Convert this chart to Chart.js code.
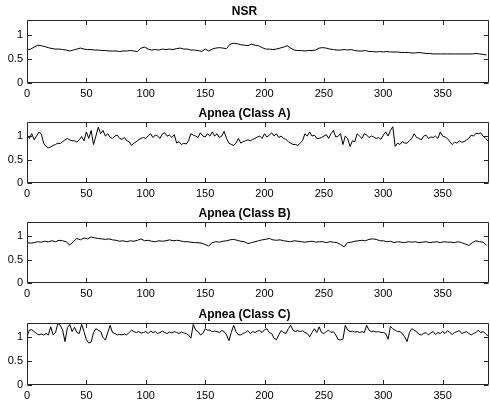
<!DOCTYPE html>
<html><head><meta charset="utf-8">
<script src="https://cdn.jsdelivr.net/npm/chart.js@4.4.1/dist/chart.umd.min.js"></script>
<style>
html,body{margin:0;padding:0;background:#fff;width:490px;height:406px;overflow:hidden;}
canvas{position:absolute;left:0;}
</style></head><body>
<canvas id="c0"></canvas><canvas id="c1"></canvas><canvas id="c2"></canvas><canvas id="c3"></canvas>
<script>
const titles = ["NSR", "Apnea (Class A)", "Apnea (Class B)", "Apnea (Class C)"];
const xTicks = [0, 50, 100, 150, 200, 250, 300, 350];
const yTicks = [0, 0.5, 1];
const xMin = 0, xMax = 389, yMin = 0, yMax = 1.3;

// NSR, sampled every 3 units (x = 0,3,...,387)
const nsrStep = 3;
const nsr = [0.68,0.70,0.74,0.78,0.77,0.75,0.73,0.71,0.70,0.70,0.69,0.68,0.66,0.68,0.70,0.72,0.70,0.69,0.69,0.68,
0.68,0.67,0.67,0.66,0.66,0.66,0.65,0.66,0.66,0.67,0.66,0.65,0.72,0.74,0.70,0.68,0.69,0.68,0.70,0.69,
0.70,0.69,0.71,0.72,0.70,0.70,0.68,0.68,0.67,0.65,0.70,0.66,0.70,0.72,0.73,0.72,0.71,0.80,0.82,0.81,
0.79,0.78,0.77,0.80,0.78,0.77,0.73,0.70,0.70,0.69,0.70,0.72,0.74,0.77,0.72,0.68,0.67,0.67,0.66,0.67,
0.67,0.68,0.72,0.73,0.72,0.70,0.69,0.68,0.68,0.69,0.68,0.69,0.67,0.66,0.66,0.67,0.65,0.65,0.64,0.65,
0.64,0.65,0.64,0.64,0.64,0.63,0.63,0.63,0.62,0.62,0.63,0.62,0.61,0.61,0.60,0.60,0.60,0.60,0.60,0.60,
0.60,0.60,0.60,0.60,0.60,0.60,0.61,0.60,0.59,0.58];

// Apnea Class A, sampled every 2 units (x = 0,2,...,388)
const classAStep = 2;
const classA = [1.02,0.95,1.05,0.92,1.00,1.08,1.05,0.85,0.78,0.75,0.77,0.80,0.82,0.85,0.84,0.88,0.92,0.95,0.92,0.90,
0.90,0.87,0.92,0.99,0.90,1.09,0.95,1.12,0.82,1.00,1.19,1.05,1.12,1.00,1.05,0.97,0.95,1.00,1.02,0.95,
0.93,0.97,0.90,0.88,0.80,0.85,0.88,0.92,0.95,0.97,0.95,1.00,1.05,0.97,1.02,1.00,0.95,1.05,1.07,1.00,
1.02,0.97,1.03,0.85,0.88,0.82,0.85,0.83,0.90,1.05,1.02,1.00,0.97,1.07,1.00,0.98,1.05,1.00,1.09,1.00,
1.05,0.97,1.00,1.10,0.95,0.85,0.82,0.80,0.85,0.95,0.85,0.88,0.90,0.92,0.90,0.93,0.95,0.98,1.00,0.95,
1.05,0.98,1.02,1.07,1.00,1.05,0.97,1.00,0.95,0.93,0.88,0.85,0.82,0.82,0.80,0.85,0.90,1.05,1.00,1.09,
1.00,1.02,0.95,0.95,0.97,1.00,1.03,0.95,1.05,1.12,0.98,1.00,1.05,0.82,1.00,0.95,0.78,0.90,0.88,1.05,
1.00,0.95,1.05,1.02,0.97,1.00,0.98,0.95,0.97,0.93,1.02,1.09,1.00,1.12,1.20,0.78,0.85,0.82,0.88,0.85,
0.85,0.90,0.95,1.05,0.97,0.95,0.92,1.00,1.02,0.95,0.98,0.97,1.00,0.95,1.09,1.00,0.98,0.95,0.88,0.82,
0.87,0.85,0.90,0.87,0.88,0.92,0.95,1.02,1.00,1.06,1.05,1.07,1.00,0.95,0.90];

// Apnea Class B, sampled every 3 units
const classBStep = 3;
const classB = [0.86,0.85,0.86,0.88,0.87,0.89,0.88,0.90,0.88,0.91,0.90,0.88,0.81,0.88,0.95,0.92,0.96,0.94,0.98,0.96,
0.95,0.94,0.93,0.94,0.92,0.91,0.89,0.90,0.88,0.90,0.89,0.91,0.94,0.90,0.91,0.89,0.88,0.90,0.89,0.90,
0.92,0.90,0.91,0.90,0.88,0.88,0.87,0.86,0.86,0.85,0.82,0.79,0.86,0.88,0.87,0.89,0.90,0.92,0.93,0.91,
0.89,0.88,0.84,0.86,0.88,0.90,0.92,0.93,0.95,0.92,0.91,0.92,0.90,0.89,0.88,0.90,0.89,0.88,0.87,0.88,
0.89,0.87,0.88,0.88,0.86,0.88,0.87,0.86,0.82,0.77,0.86,0.87,0.89,0.90,0.91,0.90,0.93,0.94,0.93,0.90,
0.90,0.88,0.89,0.86,0.88,0.87,0.86,0.88,0.87,0.88,0.86,0.87,0.88,0.86,0.87,0.88,0.86,0.88,0.87,0.87,
0.86,0.88,0.86,0.83,0.80,0.86,0.90,0.88,0.87,0.80];

// Apnea Class C, sampled every 2 units
const classCStep = 2;
const classC = [1.01,1.15,1.16,1.12,1.08,1.05,1.07,1.05,1.08,1.05,1.22,1.05,1.10,1.29,1.25,1.15,0.91,1.20,1.27,1.12,
1.21,1.10,1.08,1.27,1.12,0.95,0.88,0.90,1.10,1.18,1.15,1.12,1.00,0.94,1.10,1.25,1.10,1.08,1.05,1.06,
1.05,1.07,1.05,1.10,1.15,1.12,1.10,1.12,1.09,1.10,1.12,1.08,1.13,1.10,1.12,1.08,1.10,1.13,1.10,1.08,
1.11,1.09,1.12,1.10,1.08,1.11,1.09,1.08,1.05,0.98,1.27,1.15,1.12,1.05,1.08,1.18,1.15,1.15,1.12,1.13,
1.12,1.10,1.14,1.12,1.05,0.93,1.10,1.25,1.12,1.05,1.05,1.08,1.10,1.14,1.08,1.12,1.10,1.13,1.14,1.10,
1.16,1.18,1.10,1.08,0.98,0.95,1.05,1.14,1.10,1.08,1.18,1.25,1.15,1.12,1.14,1.12,1.14,1.10,1.08,1.01,
1.10,1.18,1.10,1.22,1.10,1.08,1.12,1.15,1.10,1.12,1.05,0.95,0.95,0.96,1.25,1.15,1.12,1.13,1.11,1.12,
1.10,1.12,1.10,1.25,1.15,1.12,1.13,1.11,1.12,1.10,1.10,1.08,0.96,1.23,1.18,1.15,1.12,1.12,1.08,1.01,
0.91,1.10,1.18,1.15,1.12,1.06,1.05,1.08,1.10,1.05,1.09,1.12,1.06,1.10,1.08,1.12,1.08,1.14,1.10,1.06,
1.10,1.12,1.14,1.08,1.10,1.12,1.08,1.05,1.08,1.10,1.15,1.10,1.12,1.08,1.03];

const seriesList = [[nsr, nsrStep], [classA, classAStep], [classB, classBStep], [classC, classCStep]];

// layout: chart-area top / bottom per panel
const panels = [{top:20, bottom:83}, {top:122, bottom:183}, {top:222, bottom:283}, {top:323, bottom:385}];
const TITLE_H = 20, XAXIS_H = 18, W = 490;
const FONT = "'Liberation Sans', Arial, Helvetica, sans-serif";
const AX = '#262626';

const boxTicks = {
  id: 'boxTicks',
  afterDraw(chart) {
    const {ctx, chartArea: a, scales} = chart;
    ctx.save();
    ctx.strokeStyle = AX; ctx.lineWidth = 1;
    ctx.beginPath();
    const L = Math.round(a.left)+0.5, R = Math.round(a.right)-0.5, T = Math.round(a.top)+0.5, B = Math.round(a.bottom)-0.5;
    ctx.rect(L, T, R-L, B-T);
    const tl = 4.5;
    scales.x.ticks.forEach(t => {
      const p = Math.round(scales.x.getPixelForValue(t.value))+0.5;
      ctx.moveTo(p, B); ctx.lineTo(p, B-tl);
      ctx.moveTo(p, T); ctx.lineTo(p, T+tl);
    });
    scales.y.ticks.forEach(t => {
      const p = Math.round(scales.y.getPixelForValue(t.value))+0.5;
      ctx.moveTo(L, p); ctx.lineTo(L+tl, p);
      ctx.moveTo(R, p); ctx.lineTo(R-tl, p);
    });
    ctx.stroke();
    ctx.restore();
  }
};

panels.forEach((pn, i) => {
  const cv = document.getElementById('c'+i);
  const top = pn.top - TITLE_H;
  const h = pn.bottom - top + XAXIS_H;
  cv.style.top = top + 'px';
  cv.width = W; cv.height = h;
  cv.style.width = W+'px'; cv.style.height = h+'px';
  const [vals, step] = seriesList[i];
  const data = vals.map((v, k) => ({x: k*step, y: v}));
  new Chart(cv, {
    type: 'line',
    data: {datasets: [{data, borderColor: '#000', borderWidth: 1, pointRadius: 0, tension: 0, fill: false}]},
    options: {
      responsive: false, animation: false, devicePixelRatio: 1,
      layout: {padding: {left: 0, right: 1, top: 0, bottom: 0}},
      plugins: {
        legend: {display: false}, tooltip: {enabled: false},
        title: {display: true, text: titles[i], color: '#000',
          font: {family: FONT, size: 12, weight: 'bold', lineHeight: 1.2},
          padding: {top: 4, bottom: TITLE_H - 4 - 14.4}}
      },
      scales: {
        x: {type: 'linear', min: xMin, max: xMax,
          afterBuildTicks: s => { s.ticks = xTicks.map(v => ({value: v})); },
          afterFit: s => { s.height = XAXIS_H; },
          grid: {display: false, drawTicks: false}, border: {display: false},
          ticks: {color: '#000', padding: 4, maxRotation: 0, autoSkip: false,
            font: {family: FONT, size: 11}, callback: v => String(v)}},
        y: {type: 'linear', min: yMin, max: yMax,
          afterBuildTicks: s => { s.ticks = yTicks.map(v => ({value: v})); },
          afterFit: s => { s.width = 27; },
          grid: {display: false, drawTicks: false}, border: {display: false},
          ticks: {color: '#000', padding: 4, font: {family: FONT, size: 11}, callback: v => String(v)}}
      }
    },
    plugins: [boxTicks]
  });
});
</script>
</body></html>
